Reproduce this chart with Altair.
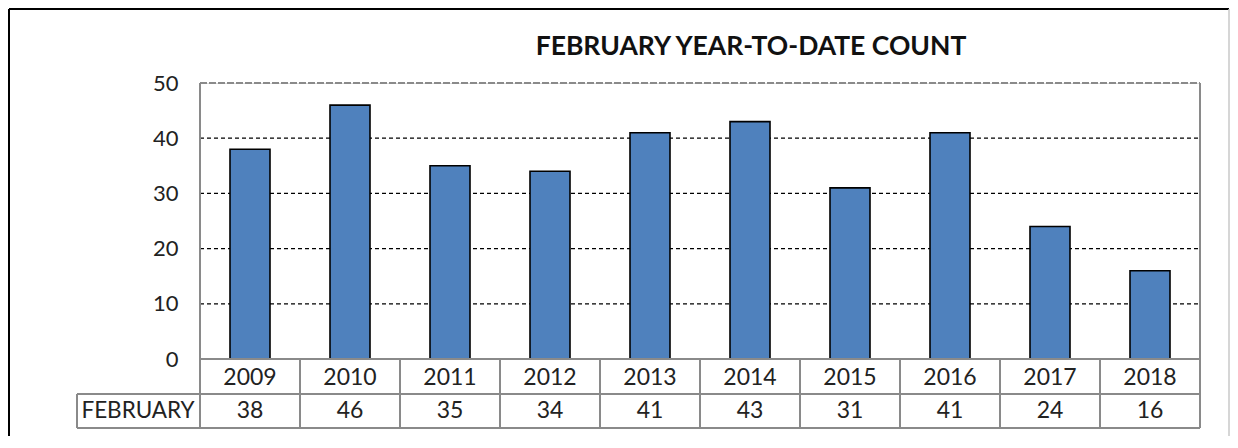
import altair as alt
import pandas as pd

years = ["2009", "2010", "2011", "2012", "2013", "2014", "2015", "2016", "2017", "2018"]
counts = [38, 46, 35, 34, 41, 43, 31, 41, 24, 16]
grid_values = [10, 20, 30, 40]
top_value = [50]
tick_values = [0, 10, 20, 30, 40, 50]
row_label = "FEBRUARY"
title_text = "FEBRUARY YEAR-TO-DATE COUNT"

FONT = "Lato"
W, H = 1000, 276

df = pd.DataFrame({"year": years, "count": counts})
grid_df = pd.DataFrame({"v": grid_values})
top_df = pd.DataFrame({"v": top_value})
one = pd.DataFrame({"k": [0]})

xs = alt.Scale(domain=years, paddingInner=0.6, paddingOuter=0.3)
ys = alt.Scale(domain=[0, 50], nice=False)

x_enc = alt.X("year:N", scale=xs, axis=None, sort=years)

grid = alt.Chart(grid_df).mark_rule(color="black", strokeDash=[4, 3], strokeWidth=1.3).encode(
    y=alt.Y("v:Q", scale=ys, axis=alt.Axis(values=tick_values, labelFont=FONT, labelFontSize=22,
                                          labelColor="#222", labelPadding=22, ticks=False,
                                          domain=False, grid=False, title=None)),
    x=alt.value(0), x2=alt.value(W),
)
top = alt.Chart(top_df).mark_rule(color="#8a8a8a", strokeDash=[7, 2], strokeWidth=2).encode(
    y=alt.Y("v:Q", scale=ys), x=alt.value(0), x2=alt.value(W),
)

bars = alt.Chart(df).mark_bar(color="#4F81BD", stroke="black", strokeWidth=1.6).encode(
    x=x_enc, y=alt.Y("count:Q", scale=ys),
)

def rule(color, width, **enc):
    return alt.Chart(one).mark_rule(color=color, strokeWidth=width).encode(**enc)

G = "#8a8a8a"
left_border = rule(G, 2, x=alt.value(0), y=alt.value(0), y2=alt.value(H + 35))
right_border = rule(G, 2, x=alt.value(W), y=alt.value(0), y2=alt.value(H + 69))
h1 = rule(G, 2, x=alt.value(0), x2=alt.value(W), y=alt.value(H))
h2 = rule(G, 2, x=alt.value(-123), x2=alt.value(W), y=alt.value(H + 35))
h3 = rule(G, 2, x=alt.value(-123), x2=alt.value(W), y=alt.value(H + 69))
row_left = rule(G, 2, x=alt.value(-123), y=alt.value(H + 35), y2=alt.value(H + 69))

vlines = alt.Chart(df).mark_rule(color=G, strokeWidth=2, xOffset=-30).encode(
    x=alt.X("year:N", scale=xs, sort=years, axis=None, bandPosition=0),
    y=alt.value(H), y2=alt.value(H + 69))

year_text = alt.Chart(df).mark_text(font=FONT, fontSize=23, color="#222", baseline="middle").encode(
    x=x_enc, y=alt.value(H + 19), text="year:N")
val_text = alt.Chart(df).mark_text(font=FONT, fontSize=23, color="#222", baseline="middle").encode(
    x=x_enc, y=alt.value(H + 52), text="count:Q")
label_text = alt.Chart(pd.DataFrame({"t": [row_label]})).mark_text(
    font=FONT, fontSize=22.5, color="#222", baseline="middle", align="center").encode(
    x=alt.value(-62), y=alt.value(H + 52), text="t:N")

title = alt.Chart(pd.DataFrame({"t": [title_text]})).mark_text(
    font=FONT, fontSize=26.5, fontWeight="bold", color="#111", baseline="middle", align="center").encode(
    x=alt.value(551), y=alt.value(-36), text="t:N")

frame_top = rule("black", 2, x=alt.value(-191), x2=alt.value(1029), y=alt.value(-74))
frame_left = rule("black", 2, x=alt.value(-191), y=alt.value(-74), y2=alt.value(H + 80))
frame_right = rule("#c8c8c8", 1.5, x=alt.value(1029), y=alt.value(-74), y2=alt.value(H + 80))

chart = alt.layer(
    grid, top, bars, left_border, right_border, h1, h2, h3, vlines, row_left,
    year_text, val_text, label_text, title, frame_top, frame_left, frame_right,
).properties(
    width=W, height=H,
    autosize=alt.AutoSizeParams(type="none"),
    padding={"left": 192, "top": 75, "right": 30, "bottom": 77},
).configure_view(stroke=None).configure(background="white")

chart.save("out.html", embed_options={"renderer": "svg", "actions": False})
